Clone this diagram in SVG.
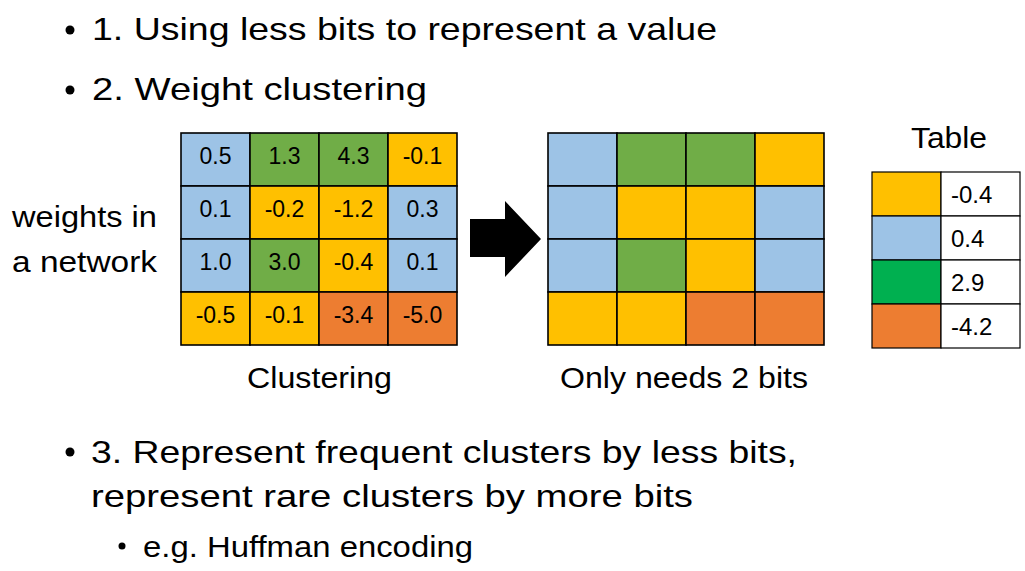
<svg xmlns="http://www.w3.org/2000/svg" width="1025" height="571" viewBox="0 0 1025 571">
<style>
text { font-family: "Liberation Sans", Arial, sans-serif; fill: #000; }
.big { font-size: 32px; }
.mid { font-size: 29px; }
.cell { font-size: 23px; text-anchor: middle; }
.tv { font-size: 24px; }
.g rect { stroke: #000; stroke-width: 1.6; }
.t rect { stroke: #000; stroke-width: 1.2; }
.b { fill: #9DC3E6; } .gr { fill: #70AD47; } .y { fill: #FFC000; } .o { fill: #ED7D31; } .tg { fill: #00B050; } .w { fill: #fff; }
</style>
<rect width="1025" height="571" fill="#fff"/>
<g id="bullets">
<circle cx="70" cy="30" r="4.5"/>
<text class="big" x="92" y="40" textLength="625" lengthAdjust="spacingAndGlyphs">1. Using less bits to represent a value</text>
<circle cx="70" cy="90" r="4.5"/>
<text class="big" x="92" y="100" textLength="335" lengthAdjust="spacingAndGlyphs">2. Weight clustering</text>
<circle cx="70" cy="452" r="4.5"/>
<text class="big" x="91" y="463" textLength="706" lengthAdjust="spacingAndGlyphs">3. Represent frequent clusters by less bits,</text>
<text class="big" x="91" y="507" textLength="602" lengthAdjust="spacingAndGlyphs">represent rare clusters by more bits</text>
<circle cx="122" cy="546" r="3.5"/>
<text class="mid" x="143" y="557" textLength="330" lengthAdjust="spacingAndGlyphs">e.g. Huffman encoding</text>
</g>
<g id="label-weights">
<text class="mid" x="12" y="227" textLength="145" lengthAdjust="spacingAndGlyphs">weights in</text>
<text class="mid" x="12" y="272" textLength="145" lengthAdjust="spacingAndGlyphs">a network</text>
</g>
<g id="grid-weights" class="g">
<rect class="b" x="181" y="133" width="69" height="53"/>
<rect class="gr" x="250" y="133" width="69" height="53"/>
<rect class="gr" x="319" y="133" width="69" height="53"/>
<rect class="y" x="388" y="133" width="69" height="53"/>
<rect class="b" x="181" y="186" width="69" height="53"/>
<rect class="y" x="250" y="186" width="69" height="53"/>
<rect class="y" x="319" y="186" width="69" height="53"/>
<rect class="b" x="388" y="186" width="69" height="53"/>
<rect class="b" x="181" y="239" width="69" height="53"/>
<rect class="gr" x="250" y="239" width="69" height="53"/>
<rect class="y" x="319" y="239" width="69" height="53"/>
<rect class="b" x="388" y="239" width="69" height="53"/>
<rect class="y" x="181" y="292" width="69" height="53"/>
<rect class="y" x="250" y="292" width="69" height="53"/>
<rect class="o" x="319" y="292" width="69" height="53"/>
<rect class="o" x="388" y="292" width="69" height="53"/>
<text class="cell" x="215.5" y="164">0.5</text>
<text class="cell" x="284.5" y="164">1.3</text>
<text class="cell" x="353.5" y="164">4.3</text>
<text class="cell" x="422.5" y="164">-0.1</text>
<text class="cell" x="215.5" y="217">0.1</text>
<text class="cell" x="284.5" y="217">-0.2</text>
<text class="cell" x="353.5" y="217">-1.2</text>
<text class="cell" x="422.5" y="217">0.3</text>
<text class="cell" x="215.5" y="270">1.0</text>
<text class="cell" x="284.5" y="270">3.0</text>
<text class="cell" x="353.5" y="270">-0.4</text>
<text class="cell" x="422.5" y="270">0.1</text>
<text class="cell" x="215.5" y="323">-0.5</text>
<text class="cell" x="284.5" y="323">-0.1</text>
<text class="cell" x="353.5" y="323">-3.4</text>
<text class="cell" x="422.5" y="323">-5.0</text>
<text class="mid" x="247" y="388" textLength="145" lengthAdjust="spacingAndGlyphs">Clustering</text>
</g>
<g id="connectors">
<polygon points="470,219 505,219 505,201 541,239 505,277 505,257 470,257" fill="#000"/>
</g>
<g id="grid-clusters" class="g">
<rect class="b" x="548" y="133" width="69" height="53"/>
<rect class="gr" x="617" y="133" width="69" height="53"/>
<rect class="gr" x="686" y="133" width="69" height="53"/>
<rect class="y" x="755" y="133" width="69" height="53"/>
<rect class="b" x="548" y="186" width="69" height="53"/>
<rect class="y" x="617" y="186" width="69" height="53"/>
<rect class="y" x="686" y="186" width="69" height="53"/>
<rect class="b" x="755" y="186" width="69" height="53"/>
<rect class="b" x="548" y="239" width="69" height="53"/>
<rect class="gr" x="617" y="239" width="69" height="53"/>
<rect class="y" x="686" y="239" width="69" height="53"/>
<rect class="b" x="755" y="239" width="69" height="53"/>
<rect class="y" x="548" y="292" width="69" height="53"/>
<rect class="y" x="617" y="292" width="69" height="53"/>
<rect class="o" x="686" y="292" width="69" height="53"/>
<rect class="o" x="755" y="292" width="69" height="53"/>
<text class="mid" x="560" y="388" textLength="248" lengthAdjust="spacingAndGlyphs">Only needs 2 bits</text>
</g>
<g id="table" class="t">
<text class="mid" x="911" y="148" textLength="76" lengthAdjust="spacingAndGlyphs">Table</text>
<rect class="y" x="872" y="172" width="69" height="44"/>
<rect class="w" x="941" y="172" width="79" height="44"/>
<rect class="b" x="872" y="216" width="69" height="44"/>
<rect class="w" x="941" y="216" width="79" height="44"/>
<rect class="tg" x="872" y="260" width="69" height="44"/>
<rect class="w" x="941" y="260" width="79" height="44"/>
<rect class="o" x="872" y="304" width="69" height="44"/>
<rect class="w" x="941" y="304" width="79" height="44"/>
<text class="tv" x="951" y="203">-0.4</text>
<text class="tv" x="951" y="247">0.4</text>
<text class="tv" x="951" y="291">2.9</text>
<text class="tv" x="951" y="335">-4.2</text>
</g>
</svg>
